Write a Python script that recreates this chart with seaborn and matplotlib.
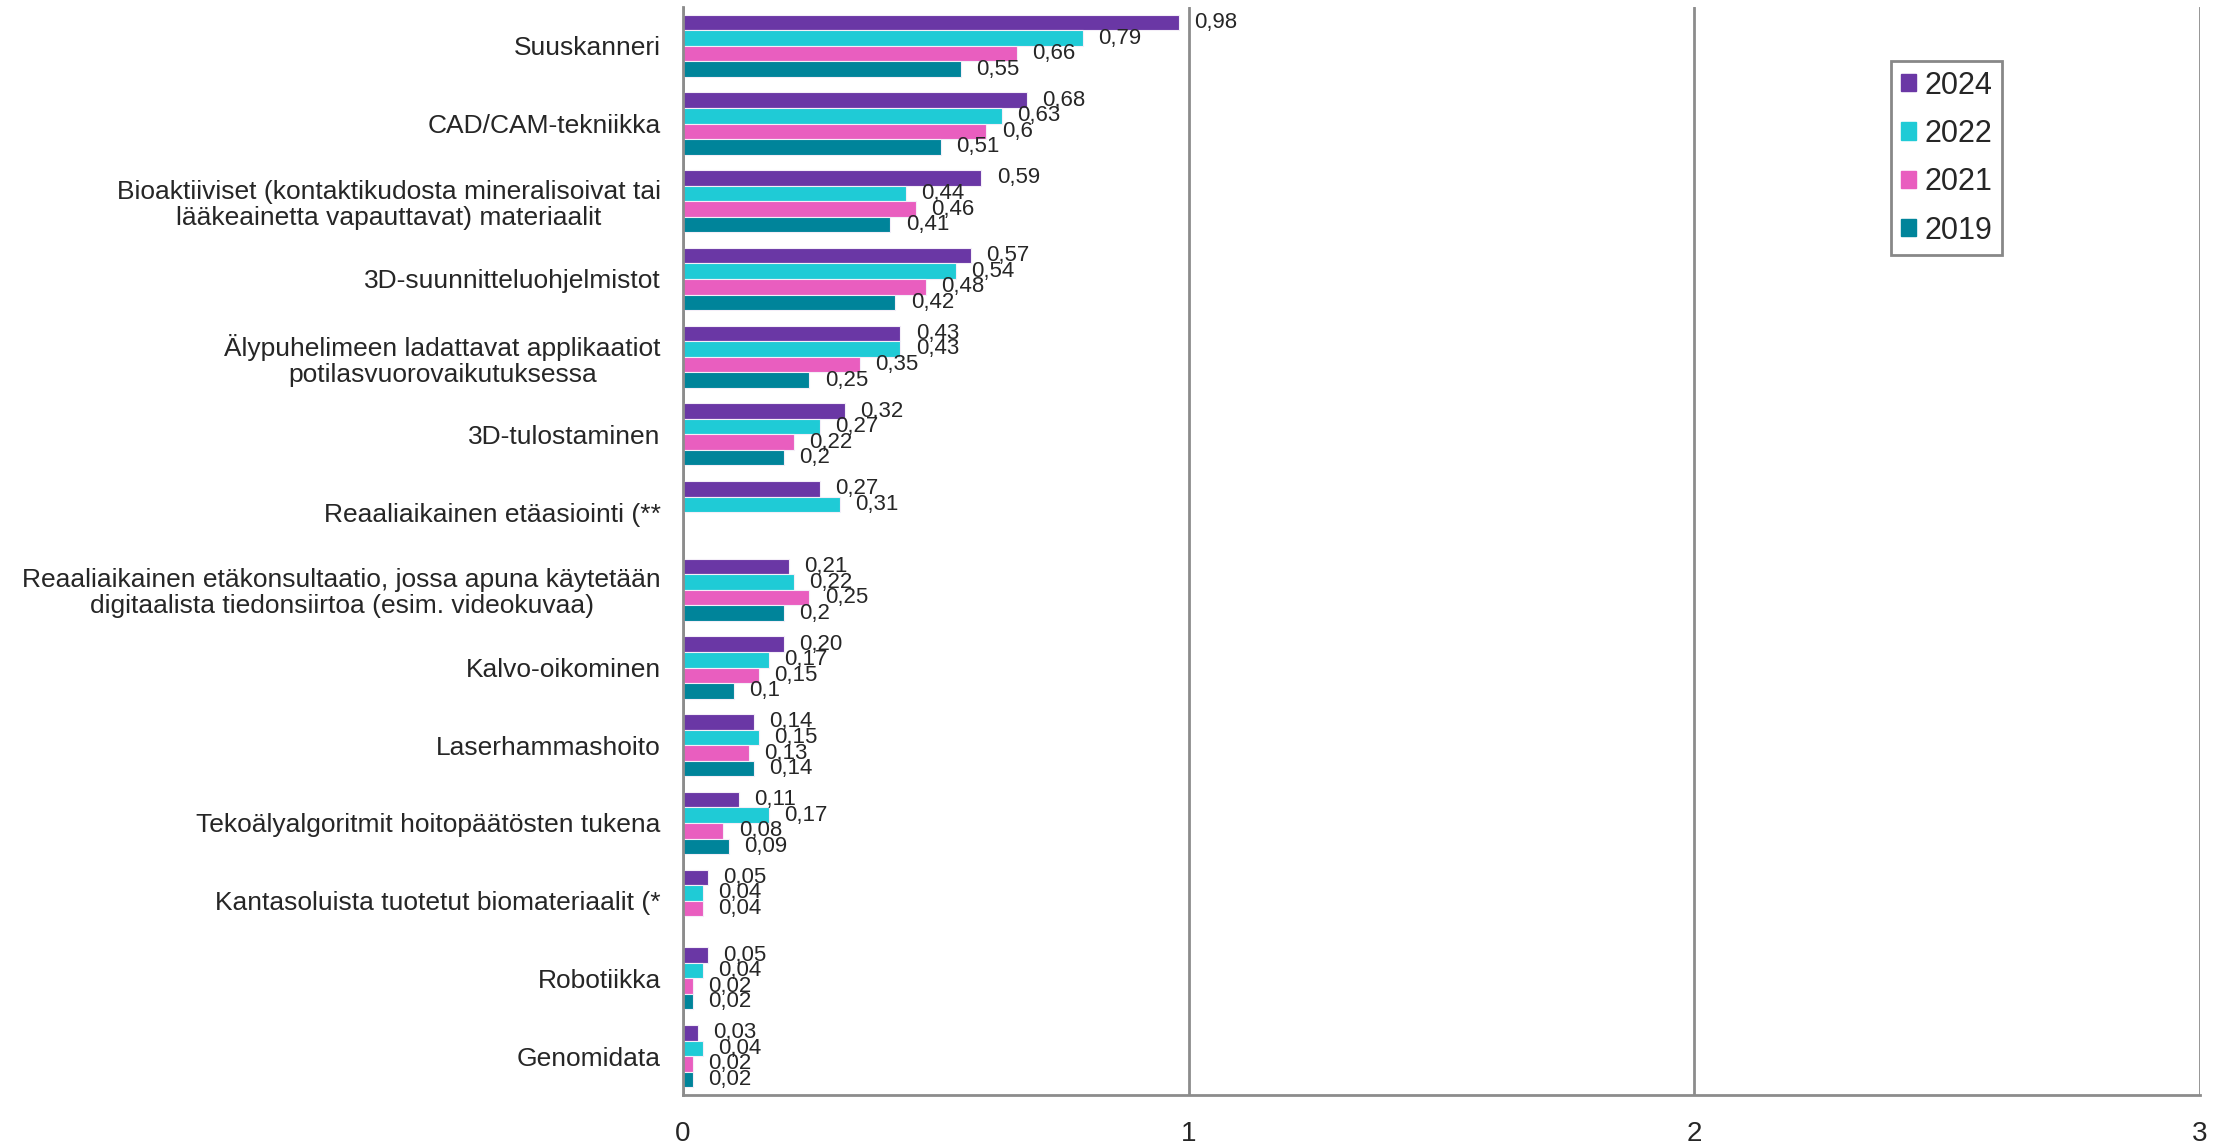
import numpy as np
import pandas as pd
import matplotlib
matplotlib.use("Agg")
import matplotlib.pyplot as plt
import seaborn as sns

# data
categories = [
    "Suuskanneri",
    "CAD/CAM-tekniikka",
    "Bioaktiiviset (kontaktikudosta mineralisoivat tai\nlääkeainetta vapauttavat) materiaalit",
    "3D-suunnitteluohjelmistot",
    "Älypuhelimeen ladattavat applikaatiot\npotilasvuorovaikutuksessa",
    "3D-tulostaminen",
    "Reaaliaikainen etäasiointi (**",
    "Reaaliaikainen etäkonsultaatio, jossa apuna käytetään\ndigitaalista tiedonsiirtoa (esim. videokuvaa)",
    "Kalvo-oikominen",
    "Laserhammashoito",
    "Tekoälyalgoritmit hoitopäätösten tukena",
    "Kantasoluista tuotetut biomateriaalit (*",
    "Robotiikka",
    "Genomidata",
]
v2024 = [0.98, 0.68, 0.59, 0.57, 0.43, 0.32, 0.27, 0.21, 0.20, 0.14, 0.11, 0.05, 0.05, 0.03]
v2022 = [0.79, 0.63, 0.44, 0.54, 0.43, 0.27, 0.31, 0.22, 0.17, 0.15, 0.17, 0.04, 0.04, 0.04]
v2021 = [0.66, 0.60, 0.46, 0.48, 0.35, 0.22, np.nan, 0.25, 0.15, 0.13, 0.08, 0.04, 0.02, 0.02]
v2019 = [0.55, 0.51, 0.41, 0.42, 0.25, 0.20, np.nan, 0.20, 0.10, 0.14, 0.09, np.nan, 0.02, 0.02]

years = ["2024", "2022", "2021", "2019"]
colors = {"2024": "#6A37A5", "2022": "#1FCBD6", "2021": "#E95EBF", "2019": "#00849A"}
# 2024/2022 labels shown with two decimals, older ones trimmed
label_fmt = {"2024": "{:.2f}", "2022": "{:.2f}", "2021": "{:g}", "2019": "{:g}"}

rows = []
for yr, vals in zip(years, [v2024, v2022, v2021, v2019]):
    for cat, v in zip(categories, vals):
        rows.append({"category": cat, "year": yr, "value": v})
df = pd.DataFrame(rows)

sns.set_style("white")
plt.rcParams["font.family"] = ["Liberation Sans", "DejaVu Sans"]

fig = plt.figure(figsize=(22.22, 11.45), dpi=100)
ax = fig.add_axes([0.3074, 0.0437, 0.6827, 0.9502])

sns.barplot(data=df, x="value", y="category", hue="year", hue_order=years,
            order=categories, palette=colors, orient="h", width=0.8,
            saturation=1, edgecolor="#F4EEF8", linewidth=0.8, ax=ax, legend=False)

for cont, yr in zip(ax.containers, years):
    labels = [label_fmt[yr].format(b.get_width()).replace(".", ",") for b in cont]
    ax.bar_label(cont, labels=labels, padding=11, fontsize=16)

ax.set_xlim(0, 3)
ax.set_ylim(len(categories) - 0.5, -0.5)
ax.set_xticks([0, 1, 2, 3])
ax.set_xticklabels(["0", "1", "2", "3"], fontsize=20)
ax.tick_params(axis="y", labelsize=19, length=0, pad=16)
ax.tick_params(axis="x", length=0, pad=19)
for lab in ax.get_yticklabels():
    lab.set_multialignment("center")
    lab.set_linespacing(1.1)
ax.set_xlabel("")
ax.set_ylabel("")

ax.grid(axis="x", color="#8C8C8C", linewidth=2)
ax.set_axisbelow(True)
for side in ["left", "bottom"]:
    ax.spines[side].set_color("#8C8C8C")
    ax.spines[side].set_linewidth(2)
ax.spines["top"].set_visible(False)
ax.spines["right"].set_visible(False)

handles = [plt.Rectangle((0, 0), 1, 1, color=colors[y]) for y in years]
leg = ax.legend(handles, years, loc="upper right", bbox_to_anchor=(0.8695, 0.95),
                borderaxespad=0, fontsize=22, frameon=True, fancybox=False,
                framealpha=1, handlelength=0.5, handleheight=0.5,
                handletextpad=0.3, labelspacing=0.6, borderpad=0.3)
leg.get_frame().set_edgecolor("#888888")
leg.get_frame().set_linewidth(2)

plt.savefig("out.png", dpi=100)
